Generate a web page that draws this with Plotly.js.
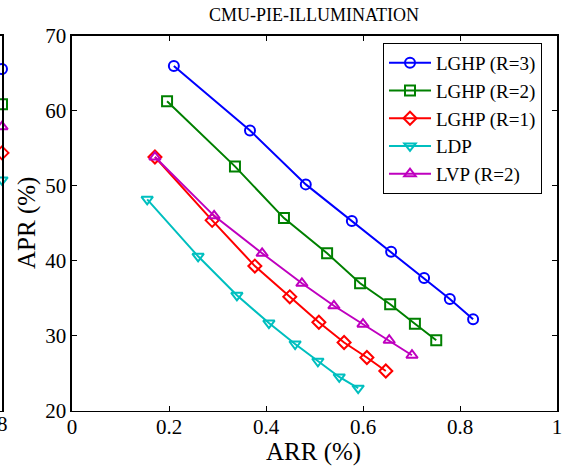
<!DOCTYPE html>
<html>
<head>
<meta charset="utf-8">
<script src="https://cdn.plot.ly/plotly-3.0.1.min.js"></script>
<style>html,body{margin:0;padding:0;background:#fff}#chart{width:574px;height:472px}</style>
</head>
<body>
<div id="chart"></div>
<script>
// Main chart data (ARR vs APR)
const lghp3_x = [0.210, 0.367, 0.482, 0.577, 0.658, 0.726, 0.779, 0.827];
const lghp3_y = [66.0, 57.4, 50.2, 45.3, 41.2, 37.7, 34.9, 32.2];
const lghp2_x = [0.196, 0.336, 0.437, 0.526, 0.594, 0.656, 0.707, 0.751];
const lghp2_y = [61.3, 52.6, 45.7, 41.0, 37.0, 34.2, 31.6, 29.4];
const lghp1_x = [0.171, 0.289, 0.377, 0.449, 0.509, 0.561, 0.608, 0.647];
const lghp1_y = [53.85, 45.4, 39.3, 35.2, 31.8, 29.1, 27.1, 25.3];
const ldp_x = [0.155, 0.260, 0.340, 0.406, 0.460, 0.507, 0.551, 0.590];
const ldp_y = [48.2, 40.6, 35.4, 31.7, 28.9, 26.6, 24.5, 23.0];
const lvp2_x = [0.171, 0.293, 0.392, 0.474, 0.540, 0.600, 0.654, 0.701];
const lvp2_y = [53.85, 46.0, 41.0, 37.0, 34.0, 31.55, 29.4, 27.4];

const seriesNames = ["LGHP (R=3)", "LGHP (R=2)", "LGHP (R=1)", "LDP", "LVP (R=2)"];
const xTicks = [0, 0.2, 0.4, 0.6, 0.8, 1];
const xTickText = ["0", "0.2", "0.4", "0.6", "0.8", "1"];
const yTicks = [20, 30, 40, 50, 60, 70];

// Neighbouring (cropped) chart on the left edge: last points visible at x = 8
const nb_x = [8];
const nb_y = [65.6, 60.9, 54.4, 50.8, 57.9];
const nbTickLabel = "8";

const colors = ["#0000ff", "#008000", "#ff0000", "#00bfbf", "#bf00bf"];
const symbols = ["circle-open", "square-open", "diamond-open", "triangle-down-open", "triangle-up-open"];
const xs = [lghp3_x, lghp2_x, lghp1_x, ldp_x, lvp2_x];
const ys = [lghp3_y, lghp2_y, lghp1_y, ldp_y, lvp2_y];

const traces = [];
for (let i = 0; i < 5; i++) {
  traces.push({
    x: xs[i], y: ys[i], name: seriesNames[i], type: "scatter", mode: "lines+markers",
    line: {color: colors[i], width: 2},
    marker: {symbol: symbols[i], size: 10, color: colors[i], line: {color: colors[i], width: 2}},
    xaxis: "x", yaxis: "y"
  });
}
for (let i = 0; i < 5; i++) {
  traces.push({
    x: nb_x, y: [nb_y[i]], type: "scatter", mode: "markers", showlegend: false, cliponaxis: false,
    marker: {symbol: symbols[i], size: 10, color: colors[i], line: {color: colors[i], width: 2}},
    xaxis: "x2", yaxis: "y2", hoverinfo: "skip"
  });
}

const font = "Liberation Serif";
const yDom = [1 - 410.7/472, 1 - 36/472];
const layout = {
  width: 574, height: 472,
  margin: {l: 0, r: 0, t: 0, b: 0},
  paper_bgcolor: "#fff", plot_bgcolor: "#fff",
  font: {family: font, color: "#000"},
  showlegend: true,
  xaxis: {
    domain: [72/574, 557/574], range: [0, 1],
    tickvals: xTicks, ticktext: xTickText,
    ticks: "inside", ticklen: 5, tickwidth: 1, tickcolor: "#000",
    showline: true, linecolor: "#000", linewidth: 1.6, mirror: "ticks",
    showgrid: false, zeroline: false, ticklabelstandoff: -4,
    tickfont: {family: font, size: 21, color: "#000"}
  },
  yaxis: {
    domain: yDom, range: [20, 70],
    tickvals: yTicks,
    ticks: "inside", ticklen: 5, tickwidth: 1, tickcolor: "#000",
    showline: true, linecolor: "#000", linewidth: 1.6, mirror: "ticks",
    showgrid: false, zeroline: false,
    tickfont: {family: font, size: 21, color: "#000"}
  },
  xaxis2: {
    domain: [0, 2/574], range: [0, 8], anchor: "y2",
    showticklabels: false, ticks: "",
    showline: true, linecolor: "#000", linewidth: 1.6, mirror: true,
    showgrid: false, zeroline: false
  },
  yaxis2: {
    domain: yDom, range: [20, 70], anchor: "x2",
    showticklabels: false, ticks: "",
    showline: true, linecolor: "#000", linewidth: 1.6, mirror: true,
    showgrid: false, zeroline: false
  },
  legend: {
    x: 383/574, y: 1 - 43/472, xanchor: "left", yanchor: "top",
    bgcolor: "#fff", bordercolor: "#000", borderwidth: 1,
    font: {family: font, size: 19, color: "#000"},
    itemwidth: 42,
    tracegroupgap: 0
  },
  annotations: [
    {text: "CMU-PIE-ILLUMINATION", x: 314/574, y: 1 - 15/472, xref: "paper", yref: "paper",
     showarrow: false, xanchor: "center", yanchor: "middle", font: {family: font, size: 18, color: "#000"}},
    {text: "ARR (%)", x: 314/574, y: 1 - 452/472, xref: "paper", yref: "paper",
     showarrow: false, xanchor: "center", yanchor: "middle", font: {family: font, size: 25, color: "#000"}},
    {text: "APR (%)", x: 27/574, y: 1 - 223/472, xref: "paper", yref: "paper", textangle: -90,
     showarrow: false, xanchor: "center", yanchor: "middle", font: {family: font, size: 25, color: "#000"}},
    {text: nbTickLabel, x: nb_x[0], xref: "x2", y: 1 - 424/472, yref: "paper",
     showarrow: false, xanchor: "center", yanchor: "middle", font: {family: font, size: 21, color: "#000"}}
  ]
};

Plotly.newPlot("chart", traces, layout, {displayModeBar: false, staticPlot: true});
</script>
</body>
</html>
